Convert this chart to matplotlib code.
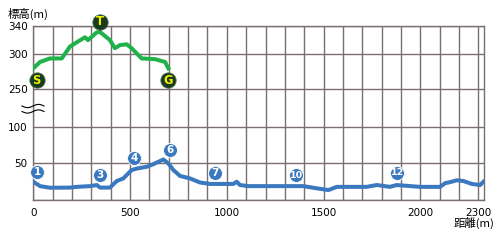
import numpy as np
import matplotlib
matplotlib.use("Agg")
import matplotlib.pyplot as plt
from matplotlib.lines import Line2D

# mountain course (green), distance [m] / elevation [m]
green_dist = [0, 35, 86, 147, 190, 231, 267, 283, 328, 345, 396, 422, 448, 483, 508, 560, 629, 681, 698]
green_elev = [280, 289, 294, 294, 311, 318, 324, 320, 331, 331.5, 320, 308.5, 313, 314, 308.5, 294, 293, 289, 280]

# lowland course (blue)
blue_dist = [0, 35, 86, 190, 224, 293, 328, 345, 396, 431, 465, 508, 534, 586, 620, 672, 698, 724, 758,
             810, 861, 913, 965, 1034, 1051, 1068, 1111, 1189, 1395, 1465, 1525, 1568, 1723, 1775, 1843,
             1878, 1998, 2102, 2128, 2162, 2188, 2222, 2266, 2309, 2326]
blue_elev = [25, 19, 16.8, 17, 18, 19, 20.5, 17, 17, 26, 29.5, 41, 43, 45.5, 49, 55.5, 50, 41, 33,
             29.5, 24, 22, 22, 22, 25, 20.5, 19, 19, 19, 16, 13.6, 18, 18, 20.5, 18,
             20.5, 18, 18, 23, 25, 27, 26, 22, 20.5, 25]

# point markers
sgt_labels = ["S", "T", "G"]
sgt_dist = [17, 345, 696]
sgt_elev = [263, 346, 263]

num_labels = ["1", "3", "4", "6", "7", "10", "12"]
num_dist = [19, 345, 520, 707, 939, 1358, 1880]
num_elev = [38.5, 34, 57.5, 69, 37, 34, 37]

xticks = [0, 500, 1000, 1500, 2000, 2300]
yticks = [50, 100, 250, 300, 340]

# broken elevation axis: 0-100 and 250-340 with a squeezed gap
brk_in = [-1000, 0, 100, 250, 1000]
brk_out = [-730, 0, 73, 110.5, 110.5 + 0.705 * 750]


def fwd(y):
    return np.interp(y, brk_in, brk_out)


def inv(y):
    return np.interp(y, brk_out, brk_in)


gridc = "#7a6e6e"
blue = "#3a78c0"
green = "#1fb24a"
dark = "#173b1f"

fig = plt.figure(figsize=(5.01, 2.40), dpi=100)
ax = fig.add_axes([33.3 / 501, 40 / 240, (484 - 33.3) / 501, 174 / 240])
ax.set_yscale("function", functions=(fwd, inv))
ax.set_xlim(0, 2329)
ax.set_ylim(0, 340)

for x in range(0, 2301, 100):
    ax.axvline(x, color=gridc, lw=1.0, zorder=1)
for y in [0, 50, 100, 250, 300, 340]:
    ax.axhline(y, color=gridc, lw=1.0, zorder=1)
for s in ax.spines.values():
    s.set_color(gridc)
    s.set_linewidth(1.0)

ax.plot(green_dist, green_elev, color=green, lw=2.9, solid_joinstyle="round", zorder=3)
ax.plot(blue_dist, blue_elev, color=blue, lw=2.9, solid_joinstyle="round", zorder=3)

ax.plot(sgt_dist, sgt_elev, "o", ms=11, color=dark, mec="#4a6a4a", mew=0.6, clip_on=False, zorder=5)
for t, x, y in zip(sgt_labels, sgt_dist, sgt_elev):
    ax.text(x, y, t, color="#f4f000", fontsize=8.3, fontweight="bold", ha="center", va="center",
            family="DejaVu Sans", zorder=6, clip_on=False)

ax.plot(num_dist, num_elev, "o", ms=10, color=blue, mec="white", mew=0.6, clip_on=False, zorder=5)
for t, x, y in zip(num_labels, num_dist, num_elev):
    ax.text(x, y, t, color="white", fontsize=6.8 if len(t) > 1 else 7.5, fontweight="bold",
            ha="center", va="center", family="DejaVu Sans", zorder=6, clip_on=False)

ax.set_xticks(xticks)
ax.set_xticklabels([str(v) for v in xticks])
ax.set_yticks(yticks)
ax.set_yticklabels([str(v) for v in yticks])
ax.minorticks_off()
ax.tick_params(length=0, labelsize=7.5, pad=4, colors="black")
ax.tick_params(axis="x", pad=6)

# break mark on the elevation axis
wx = np.linspace(22, 44, 30)
for y0 in [106, 111.5]:
    wy = y0 + 1.6 * np.sin((wx - 22) / 22 * 2 * np.pi)
    fig.add_artist(Line2D(wx / 501, 1 - wy / 240, color="black", lw=0.8, transform=fig.transFigure))

fig.text(8 / 501, 1 - 14 / 240, "標高(m)", fontsize=8.2, ha="left", va="center",
         family=["Noto Sans CJK JP", "DejaVu Sans"])
fig.text(494 / 501, 1 - 223 / 240, "距離(m)", fontsize=8.2, ha="right", va="center",
         family=["Noto Sans CJK JP", "DejaVu Sans"])

fig.savefig("out.png", dpi=100)
